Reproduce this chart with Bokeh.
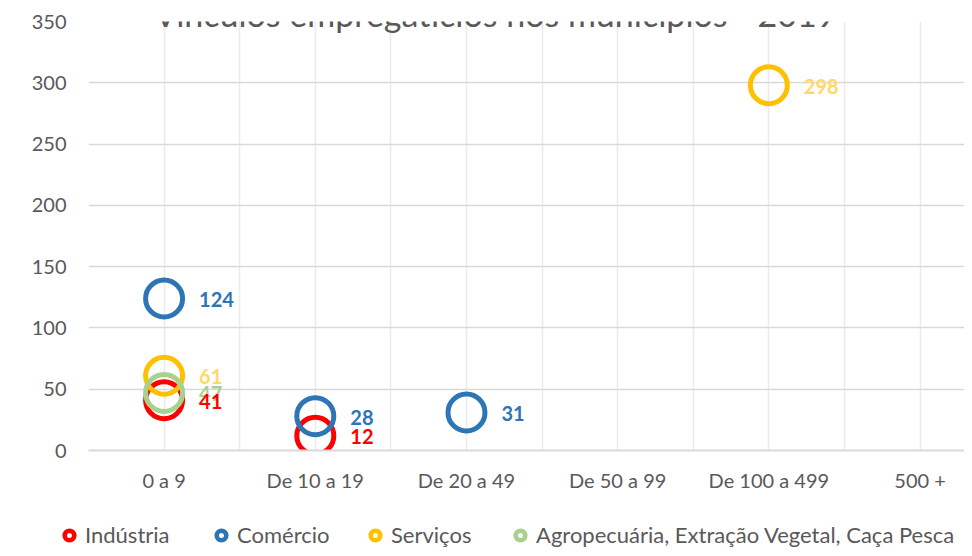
from bokeh.plotting import figure
from bokeh.layouts import column
from bokeh.models import (ColumnDataSource, Range1d, FixedTicker, Legend, LegendItem, Label)
from bokeh.embed import file_html
from bokeh.resources import INLINE
from bokeh.core.properties import value

# ---- data ----
categories = ["0 a 9", "De 10 a 19", "De 20 a 49", "De 50 a 99", "De 100 a 499", "500 +"]

industria_cats = ["0 a 9", "De 10 a 19"]
industria_vals = [41, 12]

comercio_cats = ["0 a 9", "De 10 a 19", "De 20 a 49"]
comercio_vals = [124, 28, 31]

servicos_cats = ["0 a 9", "De 100 a 499"]
servicos_vals = [61, 298]

agro_cats = ["0 a 9"]
agro_vals = [47]

series_names = ["Indústria", "Comércio", "Serviços", "Agropecuária, Extração Vegetal, Caça Pesca"]
series_cats = [industria_cats, comercio_cats, servicos_cats, agro_cats]
series_vals = [industria_vals, comercio_vals, servicos_vals, agro_vals]
marker_colors = ["#FF0000", "#2E75B6", "#FFC000", "#A9D18E"]
label_colors = ["#FF0000", "#2E75B6", "#FFD966", "#A9D18E"]

title_text = "Vínculos empregatícios nos municípios - 2019"
y_ticks = list(range(0, 351, 50))

FONT = "Lato"
GREY = "#595959"

p = figure(width=964, height=510, output_backend="svg", toolbar_location=None,
           x_range=Range1d(-0.5, 5.294), y_range=Range1d(0, 350),
           min_border_left=88, min_border_right=0, min_border_top=21, min_border_bottom=60)
p.outline_line_color = None
p.background_fill_color = "white"
p.border_fill_color = "white"

# grids
p.xgrid.ticker = FixedTicker(ticks=[i * 0.5 - 0.5 for i in range(2 * len(categories) + 1)])
p.xgrid.grid_line_color = "#EBEBEB"
p.xgrid.grid_line_width = 1.5
p.ygrid.ticker = FixedTicker(ticks=y_ticks)
p.ygrid.grid_line_color = "#D9D9D9"
p.ygrid.grid_line_width = 1.5

# axes
p.xaxis.ticker = FixedTicker(ticks=list(range(len(categories))))
p.xaxis.major_label_overrides = {i: c for i, c in enumerate(categories)}
p.xaxis.axis_line_color = "#D9D9D9"
p.xaxis.axis_line_width = 2
p.xaxis.major_tick_line_color = None
p.xaxis.minor_tick_line_color = None
p.xaxis.major_tick_out = 0
p.xaxis.major_label_standoff = 17
p.xaxis.major_label_text_font = FONT
p.xaxis.major_label_text_font_size = "20px"
p.xaxis.major_label_text_color = GREY

p.yaxis.ticker = FixedTicker(ticks=y_ticks)
p.yaxis.axis_line_color = None
p.yaxis.major_tick_line_color = None
p.yaxis.minor_tick_line_color = None
p.yaxis.major_tick_out = 0
p.yaxis.major_label_standoff = 22
p.yaxis.major_label_text_font = FONT
p.yaxis.major_label_text_font_size = "20px"
p.yaxis.major_label_text_color = GREY

# markers
sources = []
for name, cats, vals in zip(series_names, series_cats, series_vals):
    src = ColumnDataSource(dict(x=[categories.index(c) for c in cats], y=vals,
                                lbl=[str(v) for v in vals]))
    sources.append(src)

for src, col in zip(sources, marker_colors):
    p.scatter("x", "y", source=src, marker="circle", size=37, fill_color=None,
              line_color=col, line_width=5)

# data labels (red drawn last)
for i in [1, 2, 3, 0]:
    p.text("x", "y", text="lbl", source=sources[i], x_offset=35, y_offset=1,
           text_align="left", text_baseline="middle",
           text_font=value(FONT), text_font_style="bold", text_font_size="20px",
           text_color=label_colors[i])

# title (cut at the top as in the reference)
p.add_layout(Label(x=2.19, y=356.5, text=title_text, text_align="center",
                   text_baseline="alphabetic", text_font=FONT, text_font_size="34px",
                   text_color=GREY))

# ---- legend strip (own small figure under the chart) ----
lf = figure(width=964, height=38, output_backend="svg", toolbar_location=None,
            x_range=Range1d(10, 11), y_range=Range1d(10, 11),
            x_axis_location=None, y_axis_location=None,
            min_border_left=0, min_border_right=0, min_border_top=0, min_border_bottom=0)
lf.frame_align = False
p.frame_align = False
lf.outline_line_color = None
lf.xgrid.visible = False
lf.ygrid.visible = False
lf.border_fill_color = "white"
lf.background_fill_color = "white"

legend_x = [57, 209, 363, 508]
for name, src, col, lx in zip(series_names, sources, marker_colors, legend_x):
    key = lf.scatter("x", "y", source=src, marker="circle", size=10, fill_color=None,
                     line_color=col, line_width=4.6)
    lg = Legend(items=[LegendItem(label=value(name), renderers=[key])],
                location=(lx, 0), orientation="horizontal",
                glyph_width=24, glyph_height=24, label_standoff=4,
                padding=0, margin=0, spacing=0,
                border_line_color=None, background_fill_alpha=0,
                label_text_font=FONT, label_text_font_size="22px",
                label_text_color=GREY)
    lf.add_layout(lg)

layout = column(p, lf, spacing=0)
open("out.html", "w").write(file_html(layout, INLINE))
